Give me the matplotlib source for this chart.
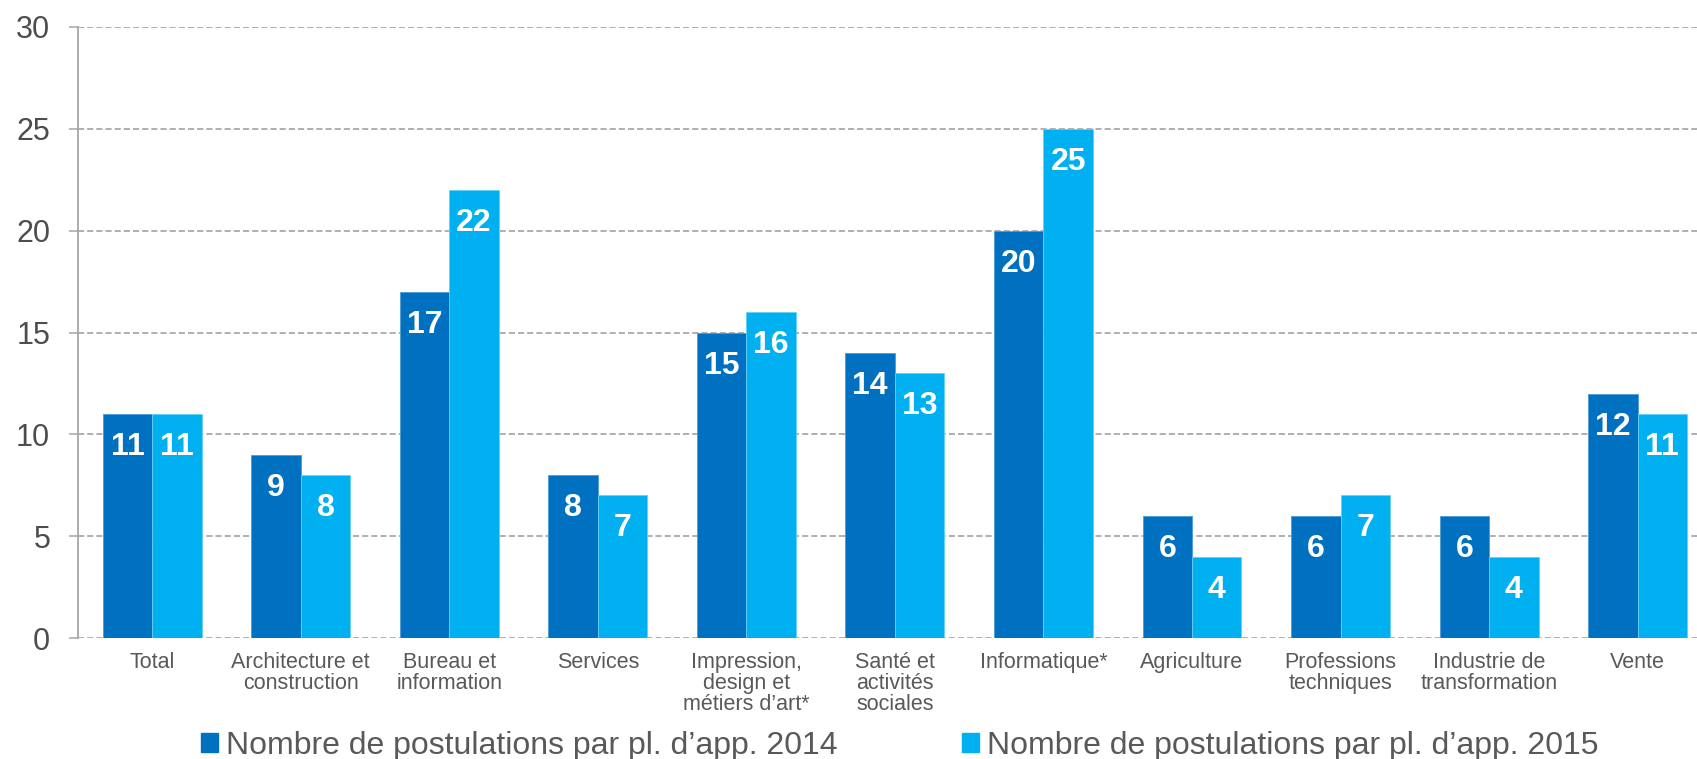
import numpy as np
import matplotlib
matplotlib.use("Agg")
import matplotlib.pyplot as plt
from matplotlib.patches import Patch

categories = ["Total", "Architecture et\nconstruction", "Bureau et\ninformation", "Services",
              "Impression,\ndesign et\nmétiers d’art*", "Santé et\nactivités\nsociales",
              "Informatique*", "Agriculture", "Professions\ntechniques",
              "Industrie de\ntransformation", "Vente"]
vals_2014 = [11, 9, 17, 8, 15, 14, 20, 6, 6, 6, 12]
vals_2015 = [11, 8, 22, 7, 16, 13, 25, 4, 7, 4, 11]
series_names = ["Nombre de postulations par pl. d’app. 2014",
                "Nombre de postulations par pl. d’app. 2015"]

dark = "#0070C0"
light = "#00B0F0"
grey_txt = "#595959"

plt.rcParams["font.family"] = ["Liberation Sans", "DejaVu Sans"]

fig = plt.figure(figsize=(16.97, 7.59), dpi=100)
ax = fig.add_axes([78 / 1697, 121 / 759, 1 - 78 / 1697, (638 - 27) / 759])

x = np.arange(len(categories))
w = 0.333
b1 = ax.bar(x - w / 2, vals_2014, w, color=dark, edgecolor="#4d9bd6", linewidth=0.6, zorder=3)
b2 = ax.bar(x + w / 2, vals_2015, w, color=light, edgecolor="#66d0f6", linewidth=0.6, zorder=3)

for bars, vals in ((b1, vals_2014), (b2, vals_2015)):
    for r, v in zip(bars, vals):
        ax.annotate(str(v), (r.get_x() + r.get_width() / 2, v), xytext=(0, -41),
                    textcoords="offset pixels", ha="center", va="baseline",
                    color="white", fontsize=23, fontweight="bold", zorder=4)

ax.set_xlim(-0.5, 10.4)
ax.set_ylim(0, 30)
ax.set_yticks(range(0, 31, 5))
ax.yaxis.grid(True, linestyle=(0, (4, 2)), color="#9A9A9A", linewidth=1.1, zorder=0)
ax.set_axisbelow(True)

for s in ("top", "right", "bottom"):
    ax.spines[s].set_visible(False)
ax.spines["left"].set_color("#A6A6A6")
ax.spines["left"].set_linewidth(1.3)

ax.set_xticks(x)
ax.set_xticklabels(categories, fontsize=15.5, color=grey_txt, linespacing=1.0)
ax.tick_params(axis="x", length=0, pad=10)
ax.tick_params(axis="y", length=6.5, width=1.1, color="#A6A6A6", labelsize=22,
               labelcolor="#4d4d4d", pad=13.5)

handles = [Patch(color=dark), Patch(color=light)]
fig.legend(handles, series_names, loc="center left", bbox_to_anchor=(201 / 1697, 13 / 759),
           ncol=2, frameon=False, fontsize=23, labelcolor=grey_txt, borderpad=0,
           borderaxespad=0, handlelength=0.53, handleheight=0.53, handletextpad=0.25,
           columnspacing=3.9)

fig.savefig("out.png", dpi=100)
